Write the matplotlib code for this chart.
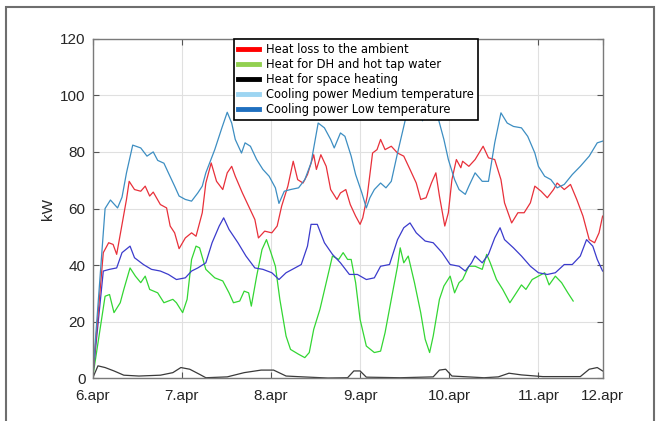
import matplotlib
matplotlib.use("Agg")
import matplotlib.pyplot as plt
from matplotlib.lines import Line2D
from matplotlib.patches import Rectangle

# ============================================================
# DATA (time in days after 6 April 00:00, power in kW)
# ============================================================

tick_days = [0, 1, 2, 3, 4, 5, 5.72]
tick_labels = ["6.apr", "7.apr", "8.apr", "9.apr", "10.apr", "11.apr", "12.apr"]

legend_labels = [
    "Heat loss to the ambient",
    "Heat for DH and hot tap water",
    "Heat for space heating",
    "Cooling power Medium temperature",
    "Cooling power Low temperature",
]

# cooling power, upper curve
cool_top_t = [0, 0.14, 0.2, 0.28, 0.33, 0.38, 0.45, 0.54, 0.61, 0.68, 0.73, 0.80, 0.85,
              0.92, 0.97, 1.04, 1.11, 1.18, 1.23, 1.27, 1.37, 1.45, 1.51, 1.56, 1.60,
              1.67, 1.71, 1.77, 1.84, 1.91, 1.98, 2.05, 2.09, 2.15, 2.22, 2.31, 2.38,
              2.45, 2.53, 2.60, 2.67, 2.71, 2.78, 2.83, 2.90, 2.95, 3.02, 3.07, 3.11,
              3.16, 3.23, 3.29, 3.35, 3.42, 3.49, 3.56, 3.62, 3.70, 3.78, 3.87, 3.94,
              3.99, 4.06, 4.11, 4.18, 4.22, 4.29, 4.37, 4.44, 4.51, 4.58, 4.65, 4.72,
              4.81, 4.88, 4.96, 5.00, 5.07, 5.14, 5.21, 5.29, 5.38, 5.47, 5.57, 5.66, 5.72]
cool_top_kw = [0, 60, 63, 60.2, 64, 72.6, 82.4, 81.4, 78.5, 80, 77, 76, 72.6,
               67.9, 64.4, 63.2, 62.6, 65.5, 67.9, 72.6, 80.8, 88.5, 94, 90.2, 84.4,
               79.6, 83.2, 82, 77.3, 73.8, 71.4, 67.3, 61.8, 66.1, 66.7, 67.3, 70.2,
               76.1, 90.2, 88.5, 84.4, 81.4, 86.7, 85.5, 78.5, 72, 65.5, 60.2, 63.8,
               66.7, 69, 67.3, 69.6, 79.6, 89, 98.5, 100, 91, 99, 92.6, 84.4,
               77.3, 70.2, 66.7, 65, 67.9, 72.6, 69.6, 69.6, 83.2, 93.8, 90.2, 89,
               88.5, 85.5, 79.6, 74.9, 71.4, 70.2, 67.3, 68.5, 72, 74.9, 78.5, 83.2, 83.8]

# heat loss to the ambient
loss_t = [0, 0.12, 0.18, 0.23, 0.27, 0.32, 0.38, 0.41, 0.47, 0.54, 0.59, 0.64, 0.68,
          0.76, 0.83, 0.87, 0.92, 0.97, 1.04, 1.11, 1.16, 1.23, 1.27, 1.33, 1.39,
          1.46, 1.51, 1.56, 1.60, 1.68, 1.75, 1.82, 1.86, 1.93, 2.01, 2.07, 2.12,
          2.19, 2.25, 2.30, 2.36, 2.41, 2.48, 2.51, 2.56, 2.62, 2.67, 2.74, 2.78,
          2.84, 2.89, 2.95, 3.00, 3.03, 3.08, 3.14, 3.19, 3.23, 3.28, 3.35, 3.42,
          3.49, 3.56, 3.63, 3.68, 3.74, 3.80, 3.85, 3.89, 3.95, 3.99, 4.03, 4.08,
          4.13, 4.15, 4.22, 4.29, 4.38, 4.44, 4.51, 4.58, 4.62, 4.70, 4.77, 4.84,
          4.91, 4.96, 5.03, 5.10, 5.17, 5.21, 5.29, 5.36, 5.43, 5.50, 5.57, 5.63,
          5.68, 5.72]
loss_kw = [0, 44.4, 47.9, 47.3, 43.8, 52.6, 63.2, 69.6, 66.7, 66.1, 67.9, 64.4, 65.8,
           61.4, 60.2, 53.8, 51.4, 45.8, 49.6, 51.4, 50.2, 58.5, 69, 76.1, 69.6,
           66.7, 72.6, 74.9, 71.4, 65.5, 60.8, 56.1, 49.6, 52, 51.4, 53.8, 60.8,
           67.9, 76.7, 70.2, 69, 72, 79, 73.8, 79, 74.9, 66.7, 63.2, 65.5,
           66.7, 61.4, 57.3, 54.4, 56.7, 64.4, 79.6, 80.8, 84.4, 80.8, 82, 79.6,
           78.5, 73.8, 69, 63.2, 63.8, 69, 72.6, 64.4, 53.8, 58.5, 70.2, 77.3,
           74.4, 76.7, 74.9, 77.3, 82, 77.9, 77.3, 70.2, 62, 54.9, 58.5, 58.5,
           62, 67.9, 66.1, 63.8, 66.7, 69, 66.7, 68.5, 63.2, 57.3, 49, 47.9,
           51.4, 57.3]

# cooling power, middle curve
cool_mid_t = [0, 0.12, 0.19, 0.27, 0.33, 0.42, 0.47, 0.57, 0.66, 0.76, 0.85, 0.94,
              1.04, 1.11, 1.18, 1.27, 1.34, 1.42, 1.47, 1.53, 1.63, 1.72, 1.82, 1.91,
              2.01, 2.09, 2.17, 2.27, 2.34, 2.41, 2.45, 2.52, 2.60, 2.69, 2.78, 2.88,
              2.97, 3.07, 3.16, 3.23, 3.33, 3.42, 3.49, 3.56, 3.63, 3.73, 3.82, 3.92,
              4.01, 4.11, 4.18, 4.25, 4.29, 4.37, 4.44, 4.51, 4.57, 4.62, 4.72, 4.81,
              4.91, 5.00, 5.10, 5.19, 5.29, 5.38, 5.47, 5.54, 5.61, 5.66, 5.72]
cool_mid_kw = [0, 37.9, 38.5, 39, 44.4, 46.7, 42.6, 40.2, 38.5, 37.9, 36.7, 34.9,
               35.5, 37.9, 39, 40.8, 47.9, 53.8, 56.7, 52.6, 47.9, 43.2, 39, 38.5,
               37.3, 34.9, 37.3, 39, 40.2, 46.7, 54.4, 54.4, 47.9, 43.8, 40.8, 36.7,
               36.7, 34.9, 35.5, 39.6, 40.2, 49, 53.2, 54.9, 51.4, 48.5, 47.9, 44.4,
               40.2, 39.6, 37.9, 40.8, 43.2, 40.8, 43.8, 49.6, 53.2, 49, 46.1, 43.2,
               39.6, 37.3, 36.7, 37.3, 40.2, 40.2, 43.2, 49, 46.7, 42, 37.9]

# heat for DH and hot tap water
dh_t = [0, 0.14, 0.19, 0.24, 0.31, 0.35, 0.42, 0.48, 0.54, 0.59, 0.64, 0.73, 0.80,
        0.90, 0.94, 1.01, 1.06, 1.11, 1.16, 1.20, 1.27, 1.37, 1.46, 1.53, 1.58,
        1.65, 1.70, 1.75, 1.78, 1.84, 1.90, 1.95, 2.00, 2.05, 2.10, 2.17, 2.22,
        2.31, 2.38, 2.43, 2.48, 2.55, 2.62, 2.69, 2.76, 2.81, 2.86, 2.90, 2.95,
        3.00, 3.07, 3.16, 3.23, 3.28, 3.35, 3.42, 3.45, 3.49, 3.54, 3.61, 3.68,
        3.73, 3.78, 3.82, 3.89, 3.94, 4.01, 4.06, 4.11, 4.15, 4.22, 4.29, 4.37,
        4.42, 4.46, 4.53, 4.60, 4.68, 4.74, 4.81, 4.86, 4.93, 5.00, 5.07, 5.12,
        5.19, 5.26, 5.33, 5.39]
dh_kw = [0, 29, 29.6, 23.2, 26.7, 31.4, 39, 36.1, 33.8, 36.1, 31.4, 30.2, 26.7,
         27.9, 26.7, 23.2, 27.9, 42, 46.7, 46.1, 38.5, 35.5, 34.4, 30.2, 26.7,
         27.3, 30.8, 30.2, 25.5, 36.1, 45.5, 49, 44.4, 39.6, 27.9, 14.9, 10.2,
         8.5, 7.3, 9.1, 17.3, 24.4, 33.8, 43.2, 42, 44.4, 42, 42, 33.8,
         20.8, 11.4, 9.1, 9.6, 16.1, 27.9, 39.6, 46.1, 40.8, 43.2, 33.8, 23.2,
         13.8, 9.1, 14.9, 27.9, 32.6, 36.1, 30.2, 33.8, 34.9, 39.6, 39.6, 38.5,
         43.8, 40.8, 34.9, 31.4, 26.7, 29.6, 33, 31.4, 34.9, 36.1, 37.3, 33,
         36.1, 33.8, 30.2, 27.3]

# heat for space heating
space_t = [0, 0.06, 0.14, 0.24, 0.35, 0.52, 0.76, 0.90, 0.99, 1.09, 1.20, 1.27, 1.51,
           1.70, 1.89, 2.03, 2.17, 2.36, 2.64, 2.86, 2.93, 3.00, 3.07, 3.45, 3.82,
           3.89, 3.96, 4.03, 4.39, 4.55, 4.67, 4.81, 5.05, 5.47, 5.57, 5.66, 5.72]
space_kw = [0, 4.4, 3.8, 2.6, 1.1, 0.8, 1.1, 2, 3.8, 3.2, 1.4, 0.2, 0.5,
            2, 2.9, 2.9, 0.8, 0.5, 0.1, 0.2, 2.6, 2.6, 0.4, 0.2, 0.5,
            2.9, 3.2, 0.8, 0.2, 0.5, 1.8, 1.2, 0.6, 0.6, 3.2, 3.8, 2.6]

# ============================================================
# PLOT
# ============================================================

fig = plt.figure(figsize=(6.6, 4.21), dpi=100)
fig.patches.append(Rectangle((6 / 660, -0.05), 648 / 660, 1 - 7 / 421 + 0.05,
                             transform=fig.transFigure, fill=False,
                             edgecolor="#6e6e6e", linewidth=1.5))

ax = fig.add_axes([92.6 / 660, 42.7 / 421, 510 / 660, 339.6 / 421])

ax.plot(space_t, space_kw, color="#3a3a3a", lw=0.9)
ax.plot(dh_t, dh_kw, color="#33d633", lw=0.9)
ax.plot(cool_mid_t, cool_mid_kw, color="#3b3bcc", lw=0.9)
ax.plot(loss_t, loss_kw, color="#e8303a", lw=0.9)
ax.plot(cool_top_t, cool_top_kw, color="#3d8ec2", lw=0.9)

ax.set_xlim(0, 5.72)
ax.set_ylim(0, 120)
ax.set_xticks(tick_days)
ax.set_xticklabels(tick_labels)
ax.set_yticks([0, 20, 40, 60, 80, 100, 120])
ax.grid(True, color="#e0e0e0", lw=0.8)
ax.set_axisbelow(True)
ax.tick_params(direction="in", top=True, right=True, length=4, color="#555555",
               labelsize=11, labelcolor="#262626")
ax.tick_params(axis="x", pad=8)
ax.tick_params(axis="y", pad=5)
for lbl in ax.get_xticklabels() + ax.get_yticklabels():
    lbl.set_family("Liberation Sans")
for s in ax.spines.values():
    s.set_color("#7a7a7a")
    s.set_linewidth(1.0)
ax.set_ylabel("kW", fontsize=11, family="Liberation Sans", color="#262626", labelpad=4)

legend_colors = ["#ff0000", "#92d050", "#000000", "#9dd5f2", "#1f6fbf"]
handles = [Line2D([], [], color=c, lw=3.5) for c in legend_colors]
leg = fig.legend(handles, legend_labels, loc="upper left",
                 bbox_to_anchor=(234 / 660, 1 - 39 / 421),
                 prop={"family": "DejaVu Sans", "size": 8.3},
                 frameon=True, fancybox=False, framealpha=1,
                 edgecolor="black", borderpad=0.35, labelspacing=0.18,
                 handlelength=1.8, handletextpad=0.6, borderaxespad=0)
leg.get_frame().set_linewidth(1.2)

plt.savefig("out.png", dpi=100)
